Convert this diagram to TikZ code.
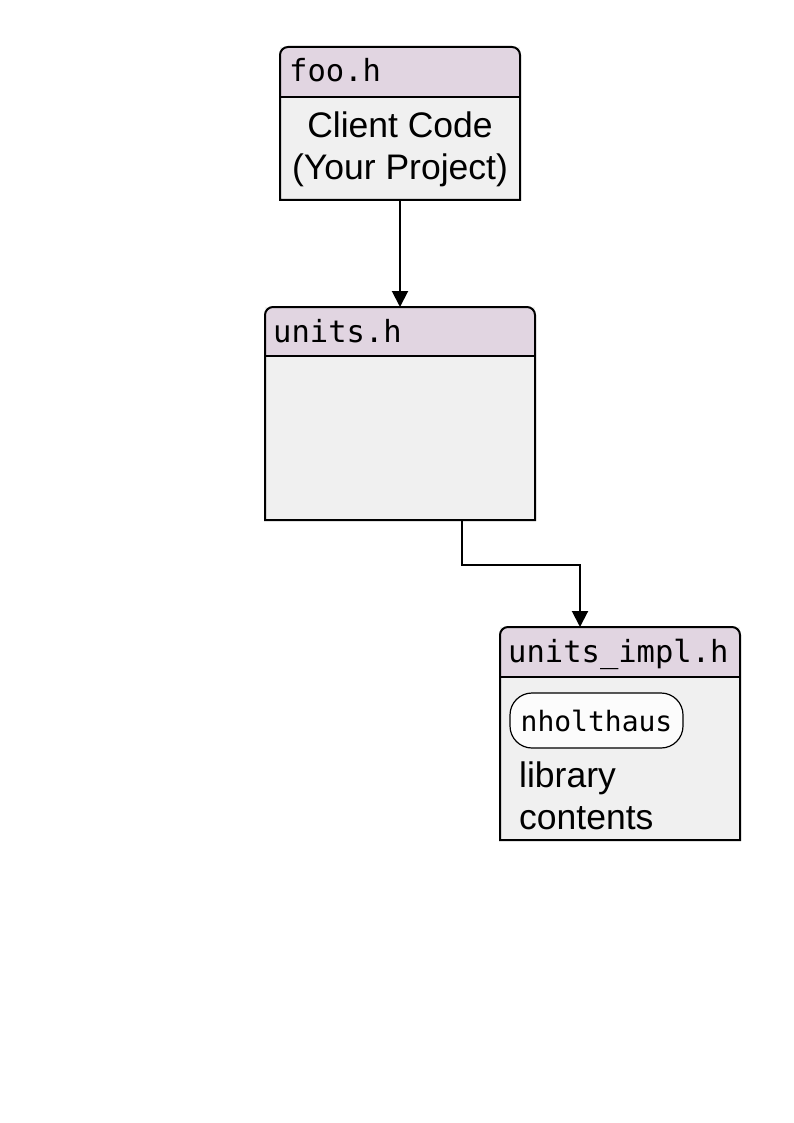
\documentclass[tikz,border=0pt]{standalone}
\usepackage{fontspec}
\setmainfont{Liberation Sans}
\newfontfamily\monof{DejaVu Sans Mono}
\usetikzlibrary{arrows.meta,calc}
\definecolor{hdrc}{HTML}{E1D5E1}
\definecolor{bodyc}{HTML}{F0F0F0}
\definecolor{pillc}{HTML}{FCFCFC}
\tikzset{
  boxarea/.style={inner sep=0pt, outer sep=0pt, anchor=north west},
  outline/.style={draw=black, line width=2pt},
  hdrtext/.style={anchor=base west, inner sep=0pt, font=\monof\fontsize{30.5}{34}\selectfont},
  bodytext/.style={inner sep=0pt, font=\fontsize{35.5}{42}\selectfont},
  pill/.style={draw=black, line width=1.2pt, fill=pillc, rounded corners=22pt, minimum width=173pt, minimum height=55pt, inner sep=0pt, font=\monof\fontsize{28}{32}\selectfont},
  arr/.style={draw=black, line width=2pt, -{Triangle[width=16pt,length=16pt]}},
}
\newcommand{\filebox}[6]{%
  % #1 name, #2 x, #3 y, #4 width, #5 height, #6 header height
  \node[boxarea, minimum width=#4pt, minimum height=#5pt] (#1) at (#2,#3) {};
  \fill[bodyc] (#1.south west) rectangle (#1.north east);
  \fill[hdrc] ($(#1.north west)+(0,#6)$) [rounded corners=8pt] -- (#1.north west) -- (#1.north east) [sharp corners] -- ($(#1.north east)+(0,#6)$) -- cycle;
  \draw[outline] ($(#1.north west)+(0,#6)$) -- ($(#1.north east)+(0,#6)$);
  \draw[outline] (#1.south west) [rounded corners=8pt] -- (#1.north west) -- (#1.north east) [sharp corners] -- (#1.south east) -- cycle;
}
\begin{document}
\begin{tikzpicture}[x=1pt,y=-1pt]
\useasboundingbox (0,0) rectangle (794,1123);
\filebox{foo}{280}{47}{240}{153}{50}
\filebox{units}{265}{307}{270}{213}{49}
\filebox{impl}{500}{627}{240}{213}{50}

\node[hdrtext] (fooh) at (289,82) {foo.h};
\node[hdrtext] (unitsh) at (273,342) {units.h};
\node[hdrtext] (implh) at (508,662) {units\_impl.h};

\node[bodytext, anchor=base] (client1) at (400,138) {Client Code};
\node[bodytext, anchor=base] (client2) at (400,180) {(Your Project)};

\node[pill] (nh) at (596.5,720.5) {nholthaus};
\node[bodytext, anchor=base west] (lib) at (519,787) {library};
\node[bodytext, anchor=base west] (cont) at (519,829) {contents};

\draw[arr] (foo.south) -- (units.north);
\coordinate (bend) at (462,565);
\draw[arr] (units.south -| bend) -- (bend) -| ([xshift=-40pt]impl.north);
\end{tikzpicture}
\end{document}
